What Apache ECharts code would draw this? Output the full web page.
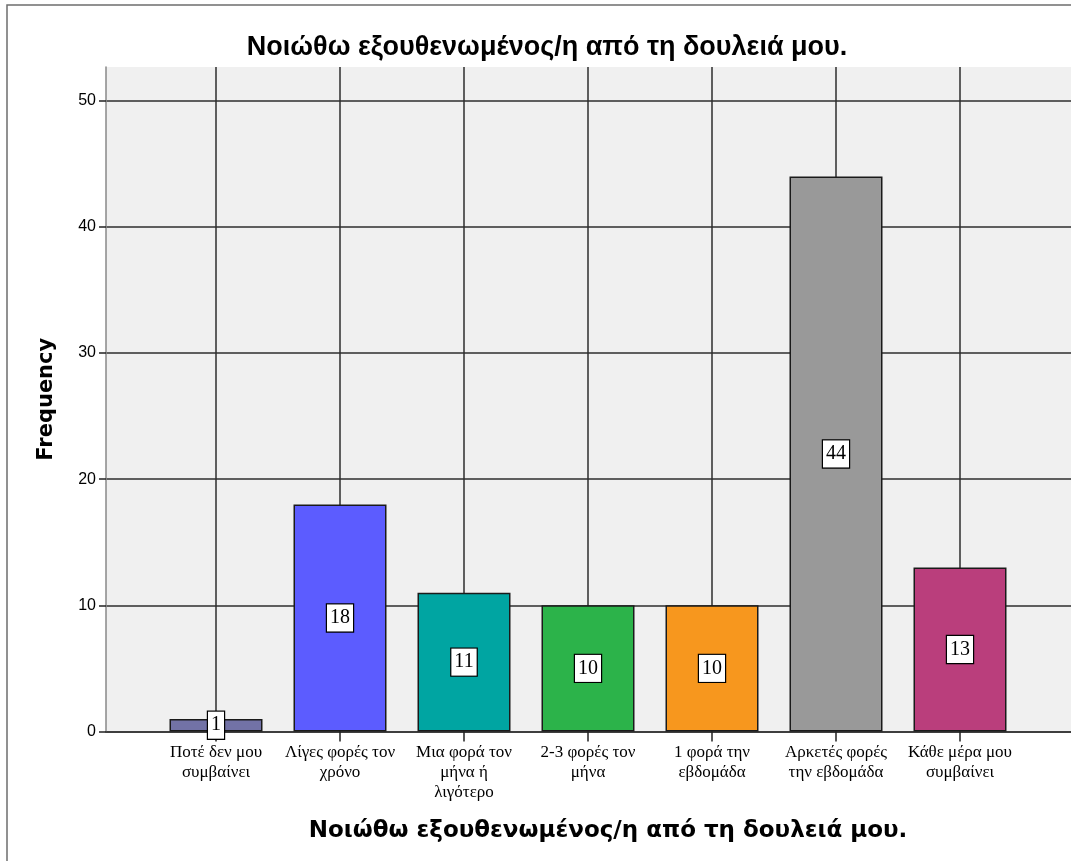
<!DOCTYPE html>
<html>
<head>
<meta charset="utf-8">
<script src="https://cdn.jsdelivr.net/npm/echarts@6/dist/echarts.min.js"></script>
<style>
html,body{margin:0;padding:0;background:#fff;}
#chart{width:1071px;height:861px;}
</style>
</head>
<body>
<div id="chart"></div>
<script>
const chartTitle = 'Νοιώθω εξουθενωμένος/η από τη δουλειά μου.';
const xAxisTitle = 'Νοιώθω εξουθενωμένος/η από τη δουλειά μου.';
const yAxisTitle = 'Frequency';
const categories = [
  'Ποτέ δεν μου\nσυμβαίνει',
  'Λίγες φορές τον\nχρόνο',
  'Μια φορά τον\nμήνα ή\nλιγότερο',
  '2-3 φορές τον\nμήνα',
  '1 φορά την\nεβδομάδα',
  'Αρκετές φορές\nτην εβδομάδα',
  'Κάθε μέρα μου\nσυμβαίνει'
];
const frequencies = [1, 18, 11, 10, 10, 44, 13];
const barColors = ['#7272a6', '#5c5cff', '#00a5a2', '#2cb34a', '#f7971e', '#999999', '#ba3e7c'];
const yTicks = [0, 10, 20, 30, 40, 50];

const plotLeft = 106, plotRight = 1071, plotTop = 67, plotBottom = 731.5;
const unitPx = (plotBottom - 100.7) / 50;
const yTopValue = (plotBottom - plotTop) / unitPx;
const catLeft = 216, catRight = 960;

const chart = echarts.init(document.getElementById('chart'), null, {renderer: 'canvas'});
const option = {
  animation: false,
  backgroundColor: '#ffffff',
  title: [
    {text: chartTitle, left: 542, top: 29, textAlign: 'center',
     textStyle: {fontFamily: 'Liberation Sans', fontSize: 27, fontWeight: 'bold', color: '#000'}},
    {text: xAxisTitle, left: 603, top: 815, textAlign: 'center',
     textStyle: {fontFamily: 'DejaVu Sans', fontSize: 23, fontWeight: 'bold', color: '#000'}}
  ],
  graphic: [
    {type: 'rect', silent: true, z: -10,
     shape: {x: 7, y: 5, width: 1200, height: 1000},
     style: {fill: null, stroke: '#6e6e6e', lineWidth: 1.5}}
  ],
  grid: [
    {left: plotLeft, top: plotTop, width: plotRight - plotLeft, height: plotBottom - plotTop,
     show: true, backgroundColor: '#f0f0f0', borderWidth: 0},
    {left: plotLeft, top: plotBottom - 50 * unitPx, width: plotRight - plotLeft, height: 50 * unitPx,
     show: false},
    {left: catLeft, top: plotTop, width: catRight - catLeft, height: plotBottom - plotTop,
     show: false}
  ],
  xAxis: [
    {gridIndex: 0, type: 'value', min: 0, max: 1, axisLabel: {show: false}, axisTick: {show: false},
     splitLine: {show: false}, axisLine: {show: true, lineStyle: {color: '#333', width: 1.5}}},
    {gridIndex: 1, type: 'value', min: 0, max: 1, show: false},
    {gridIndex: 2, type: 'category', data: categories, boundaryGap: false,
     axisLine: {show: false},
     axisTick: {show: true, length: 10, lineStyle: {color: '#222', width: 1.5}},
     splitLine: {show: true, lineStyle: {color: '#2e2e2e', width: 1.5}},
     axisLabel: {interval: 0, margin: 11, fontFamily: 'Liberation Serif', fontSize: 17,
                 lineHeight: 20, color: '#000', align: 'center'}}
  ],
  yAxis: [
    {gridIndex: 0, type: 'value', min: 0, max: yTopValue, axisLabel: {show: false},
     axisTick: {show: false}, splitLine: {show: false},
     axisLine: {show: true, lineStyle: {color: '#888', width: 1.5}},
     name: yAxisTitle, nameLocation: 'middle', nameGap: 49, nameRotate: 90,
     nameTextStyle: {fontFamily: 'DejaVu Sans', fontSize: 21, fontWeight: 'bold', color: '#000'}},
    {gridIndex: 1, type: 'value', min: yTicks[0], max: yTicks[yTicks.length - 1], interval: 10,
     axisLine: {show: false},
     axisTick: {show: true, length: 7, lineStyle: {color: '#222', width: 1.5}},
     axisLabel: {margin: 10, fontFamily: 'Liberation Sans', fontSize: 16, color: '#000'},
     splitLine: {show: true, lineStyle: {color: '#2e2e2e', width: 1.5}}},
    {gridIndex: 2, type: 'value', min: 0, max: yTopValue, show: false}
  ],
  series: [{
    type: 'bar',
    xAxisIndex: 2, yAxisIndex: 2,
    barWidth: 93,
    clip: false,
    data: frequencies.map((v, i) => ({value: v, itemStyle: {color: barColors[i]}})),
    itemStyle: {borderColor: '#1a1a1a', borderWidth: 1.5},
    label: {show: true, position: 'inside', fontFamily: 'Liberation Serif', fontSize: 20,
            color: '#000', backgroundColor: '#fff', borderColor: '#000', borderWidth: 1.2,
            padding: [4, 3, 3, 3]}
  }]
};
chart.setOption(option);
</script>
</body>
</html>
